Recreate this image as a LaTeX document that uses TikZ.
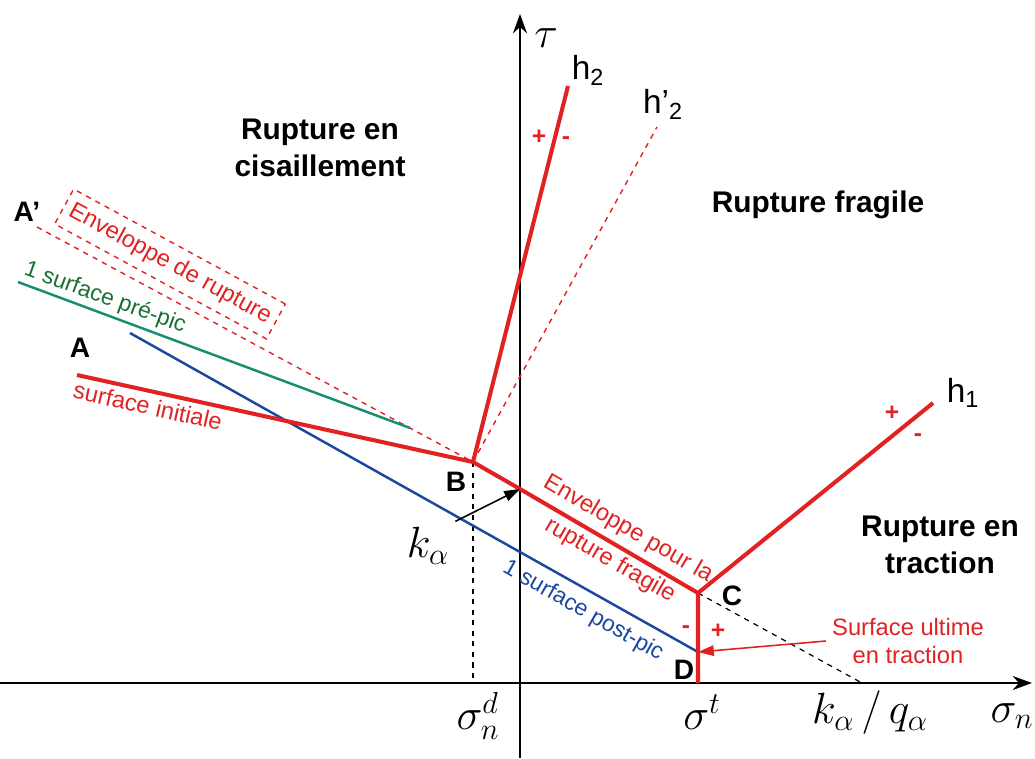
\documentclass[tikz,border=0pt]{standalone}
\usepackage{fontspec}
\setmainfont{Liberation Sans}
\usepackage{amsmath}
\usetikzlibrary{arrows.meta,calc}
\definecolor{envred}{RGB}{226,34,34}
\definecolor{preteal}{RGB}{22,142,112}
\definecolor{pretext}{RGB}{24,112,52}
\definecolor{postblue}{RGB}{26,72,160}
\tikzset{
  enveloppe/.style={envred,line width=2.3pt},
  zonelabel/.style={font=\fontsize{17}{21}\selectfont\bfseries,align=center},
  ptlabel/.style={font=\fontsize{16}{18}\selectfont\bfseries},
  redtext/.style={envred,font=\fontsize{13.5}{16}\selectfont},
  signlabel/.style={envred,font=\fontsize{14}{16}\selectfont\bfseries},
  hlabel/.style={font=\fontsize{19}{21}\selectfont},
  siglabel/.style={font=\fontsize{24}{28}\selectfont},
}

\begin{document}
\begin{tikzpicture}[x=0.02cm,y=-0.02cm]
    \useasboundingbox (0,0) rectangle (1035,758);
    % points of the criterion
    \coordinate (A) at (77,375);
    \coordinate (Ap) at (37,227);
    \coordinate (B) at (473,462);
    \coordinate (K) at (520,489);
    \coordinate (C) at (698,593);
    \coordinate (D) at (698,683);
    \coordinate (Dp) at (698,652);
    \coordinate (Q) at (862,683);
    \coordinate (Bx) at (473,683);
    \coordinate (H2) at (568,86);
    \coordinate (H2p) at (657,127);
    \coordinate (H1) at (933,403);
    \coordinate (G0) at (18,282);
    \coordinate (G1) at (410,428);
    \coordinate (P0) at (130,333);
    % axes
    \coordinate (xs) at (0,683);
    \coordinate (xe) at (1032,683);
    \coordinate (ys) at (520,758);
    \coordinate (ye) at (520,14);
    \draw[line width=1.2pt,-{Stealth[length=11pt,width=8pt]}] (xs) -- (xe);
    \draw[line width=1.2pt,-{Stealth[length=11pt,width=8pt]}] (ys) -- (ye);
    \node[siglabel] (tau) at (546,38) {$\tau$};
    % dashed guides
    \draw[dashed,line width=0.7pt] (B) -- (Bx);
    \draw[dashed,line width=0.7pt] (C) -- (Q);
    \draw[envred,dashed,line width=0.8pt] (Ap) -- (B);
    \draw[envred,dashed,line width=0.8pt] (B) -- (H2p);
    % pre-pic and post-pic surfaces
    \draw[preteal,line width=1.4pt] (G0) -- (G1);
    \draw[postblue,line width=1.4pt] (P0) -- (Dp);
    % enveloppe
    \draw[enveloppe] (A) -- (B) -- (K) -- (C) -- (D);
    \draw[enveloppe] (B) -- (H2);
    \draw[enveloppe] (C) -- (H1);
    % point labels
    \node[ptlabel] (lAp) at (27,212) {A’};
    \node[ptlabel] (lA) at (80,348) {A};
    \node[ptlabel] (lB) at (456,482) {B};
    \node[ptlabel] (lC) at (732,596) {C};
    \node[ptlabel] (lD) at (684,670) {D};
    % zones
    \node[zonelabel] (zcis) at (320,148) {Rupture en\\cisaillement};
    \node[zonelabel] (zfra) at (818,205) {Rupture fragile};
    \node[zonelabel] (ztra) at (940,545) {Rupture en\\traction};
    % h labels and signs
    \node[hlabel] (lh2) at (588,70) {h\textsubscript{2}};
    \node[hlabel] (lh2p) at (663,104) {h’\textsubscript{2}};
    \node[hlabel] (lh1) at (963,393) {h\textsubscript{1}};
    \node[signlabel] (s1) at (539,137) {+};
    \node[signlabel] (s2) at (566,141) {-};
    \node[signlabel] (s3) at (892,413) {+};
    \node[signlabel] (s4) at (918,438) {-};
    \node[signlabel] (s5) at (686,630) {-};
    \node[signlabel] (s6) at (718,631) {+};
    % curve names
    \node[redtext,draw=envred,dashed,line width=0.8pt,rotate=-28.5,inner xsep=4pt,inner ysep=5pt] (lenv) at (170,264) {Enveloppe de rupture};
    \node[pretext,font=\fontsize{13}{15}\selectfont,rotate=-20] (lpre) at (105,298) {1 surface pré-pic};
    \node[redtext,rotate=-12.5] (lini) at (148,406) {surface initiale};
    \node[postblue,font=\fontsize{13}{15}\selectfont,rotate=-29.5] (lpost) at (583,611) {1 surface post-pic};
    \node[redtext,rotate=-30,align=center] (lfra) at (619,545) {Enveloppe pour la\\[4.5pt]rupture fragile};
    \node[redtext,align=center] (lult) at (908,641) {Surface ultime\\en traction};
    \draw[envred,line width=0.9pt,-{Triangle[length=9pt,width=6pt]}] (lult.west) -- (Dp);
    % k alpha
    \node[siglabel] (lk) at (428,546) {$k_\alpha$};
    \draw[line width=0.9pt,-{Triangle[length=9pt,width=6pt]}] (lk.north east) -- (K);
    % abscissa labels
    \node[siglabel] (lsd) at (478,716) {$\sigma_n^d$};
    \node[siglabel] (lst) at (702,712) {$\sigma^t$};
    \node[siglabel] (lkq) at (870,713) {$k_\alpha\,/\,q_\alpha$};
    \node[siglabel] (lsn) at (1012,716) {$\sigma_n$};
\end{tikzpicture}
\end{document}
